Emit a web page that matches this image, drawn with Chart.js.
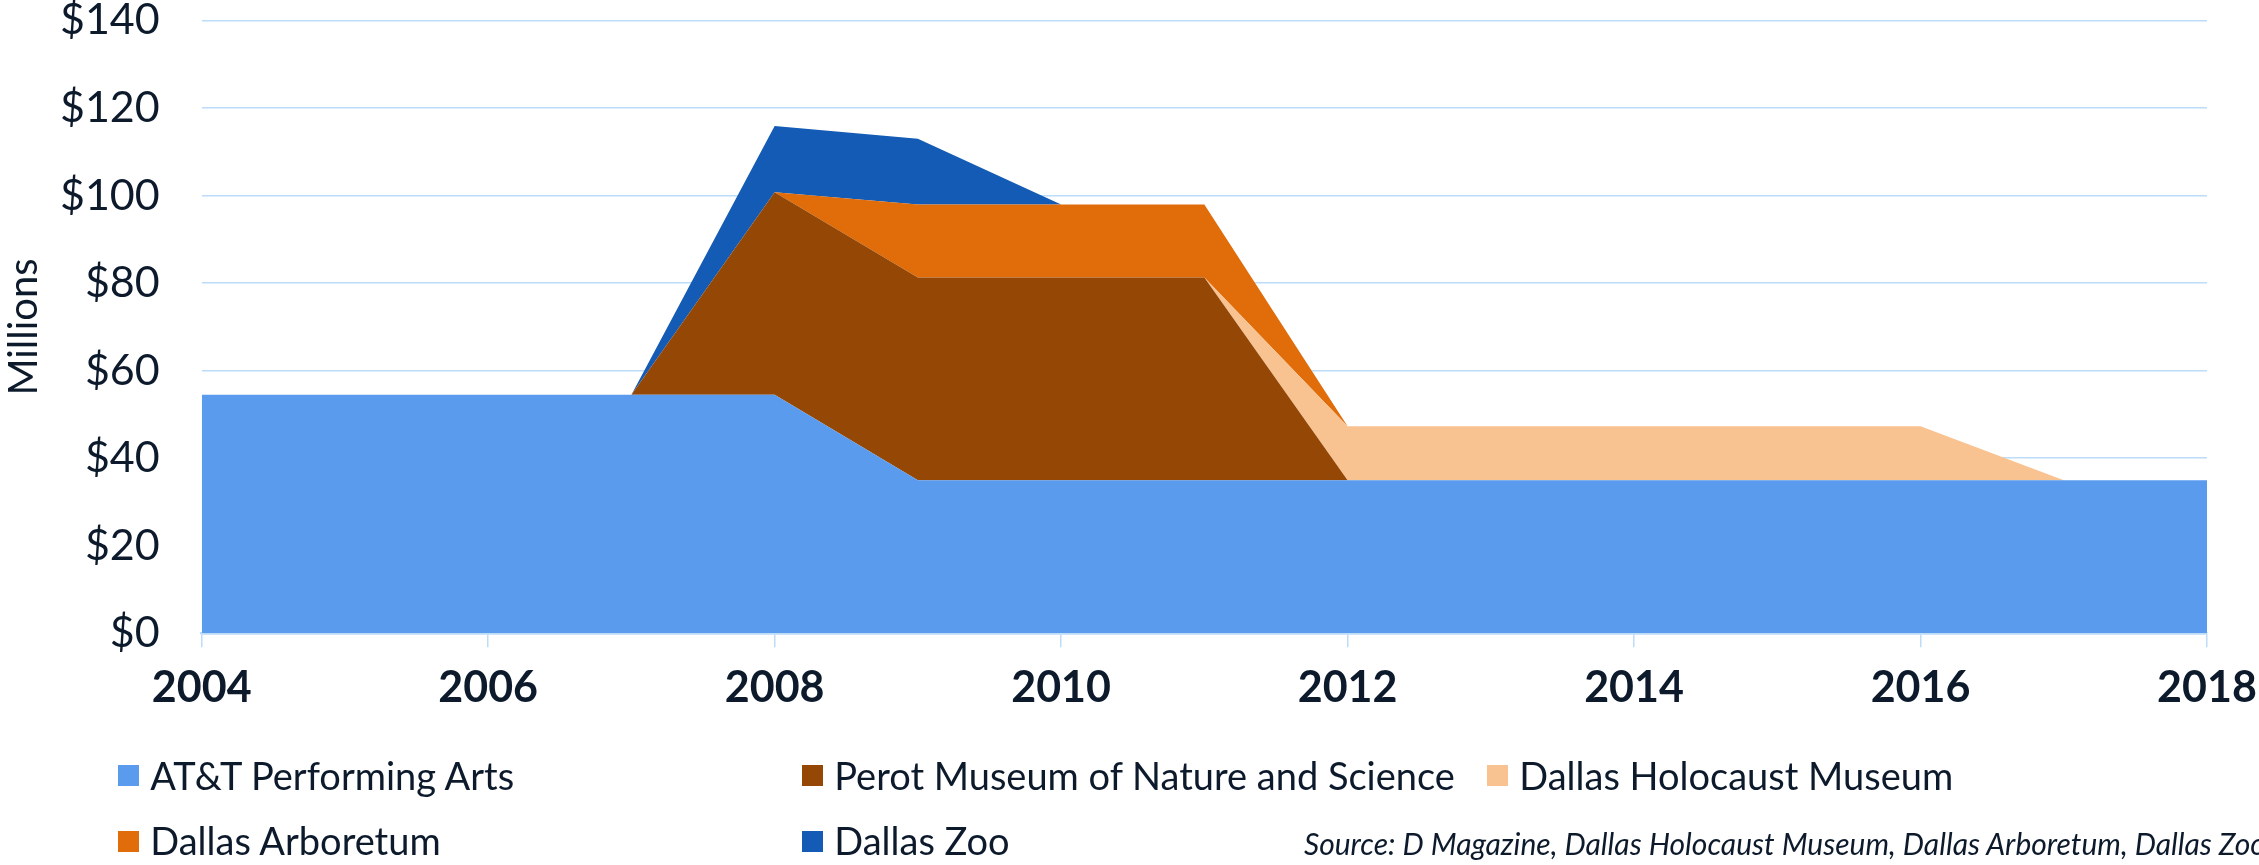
<!DOCTYPE html>
<html>
<head>
<meta charset="utf-8">
<script src="https://cdn.jsdelivr.net/npm/chart.js@4/dist/chart.umd.min.js"></script>
<style>
html,body{margin:0;padding:0;background:#fff;overflow:hidden}
#wrap{position:relative;width:2259px;height:865px;overflow:hidden}
#chart{position:absolute;left:0;top:0}
.leg{position:absolute;display:flex;align-items:center;font-family:Lato,sans-serif;font-size:38px;color:#0c1a2c;white-space:nowrap;height:40px}
.leg .box{width:21px;height:21px;margin-right:11px}
.leg .txt{position:relative;top:-1px}
#source{position:absolute;left:1304px;top:825px;font-family:Lato,sans-serif;font-style:italic;font-size:30px;color:#0c1a2c;white-space:nowrap}
</style>
</head>
<body>
<div id="wrap">
<canvas id="chart" width="2259" height="865"></canvas>
<div id="source">Source: D Magazine, Dallas Holocaust Museum, Dallas Arboretum, Dallas Zoo</div>
</div>
<script>
const years=[2004,2005,2006,2007,2008,2009,2010,2011,2012,2013,2014,2015,2016,2017,2018];
const seriesNames=['AT&T Performing Arts','Perot Museum of Nature and Science','Dallas Holocaust Museum','Dallas Arboretum','Dallas Zoo'];
const attArts  =[54.5,54.5,54.5,54.5,54.5,35,35,35,35,35,35,35,35,35,35];
const perot    =[0,0,0,0,46.3,46.3,46.3,46.3,0,0,0,0,0,0,0];
const holocaust=[0,0,0,0,0,0,0,0,12.3,12.3,12.3,12.3,12.3,0,0];
const arboretum=[0,0,0,0,0,16.7,16.7,16.7,0,0,0,0,0,0,0];
const zoo      =[0,0,0,0,15.1,15,0,0,0,0,0,0,0,0,0];
const colors=['#5a9bee','#954806','#f9c291','#e06c0a','#135bb5'];
const yTicks=[0,20,40,60,80,100,120,140];

const gridBlue='#bddcf9';
const textCol='#0c1a2c';
const allSeries=[attArts,perot,holocaust,arboretum,zoo];

const datasets=allSeries.map((vals,i)=>({
  label:seriesNames[i],
  data:vals,
  backgroundColor:colors[i],
  borderWidth:0,
  pointRadius:0,
  tension:0,
  fill:i===0?'origin':'-1'
}));

new Chart(document.getElementById('chart'),{
  type:'line',
  data:{labels:years,datasets},
  options:{
    responsive:false,
    animation:false,
    layout:{padding:{top:20.6,right:52,left:0,bottom:0}},
    plugins:{legend:{display:false},tooltip:{enabled:false}},
    scales:{
      x:{
        type:'linear',min:2004,max:2018,
        ticks:{stepSize:2,callback:v=>String(v),color:textCol,padding:15,maxRotation:0,
          font:{family:'Lato',size:43,weight:'bold'}},
        grid:{drawOnChartArea:false,drawTicks:true,tickLength:14,color:gridBlue,lineWidth:1.5},
        border:{display:true,color:gridBlue,width:2.5},
        afterFit:s=>{s.height=865-633.3;s.paddingLeft=0;s.paddingRight=0;}
      },
      y:{
        stacked:true,min:0,max:140,
        afterBuildTicks:s=>{s.ticks=yTicks.map(v=>({value:v}));},
        ticks:{callback:v=>'$'+v,color:textCol,padding:42,font:{family:'Lato',size:43}},
        grid:{drawTicks:false,color:gridBlue,lineWidth:1.5},
        border:{display:false},
        title:{display:true,text:'Millions',color:textCol,padding:{top:0,bottom:0},font:{family:'Lato',size:40}},
        afterFit:s=>{s.width=201.7;s.paddingTop=0;s.paddingBottom=0;}
      }
    }
  }
});

// legend laid out like the source: 3 columns, 2 rows
const legPos=[[118.3,778.7],[802.3,778.7],[1487.3,778.7],[118.3,844],[802.3,844]];
const wrap=document.getElementById('wrap');
seriesNames.forEach((name,i)=>{
  const d=document.createElement('div');
  d.className='leg';
  d.style.left=legPos[i][0]+'px';
  d.style.top=(legPos[i][1]-23)+'px';
  d.innerHTML='<span class="box" style="background:'+colors[i]+'"></span><span class="txt"></span>';
  d.lastChild.textContent=name;
  wrap.appendChild(d);
});
</script>
</body>
</html>
